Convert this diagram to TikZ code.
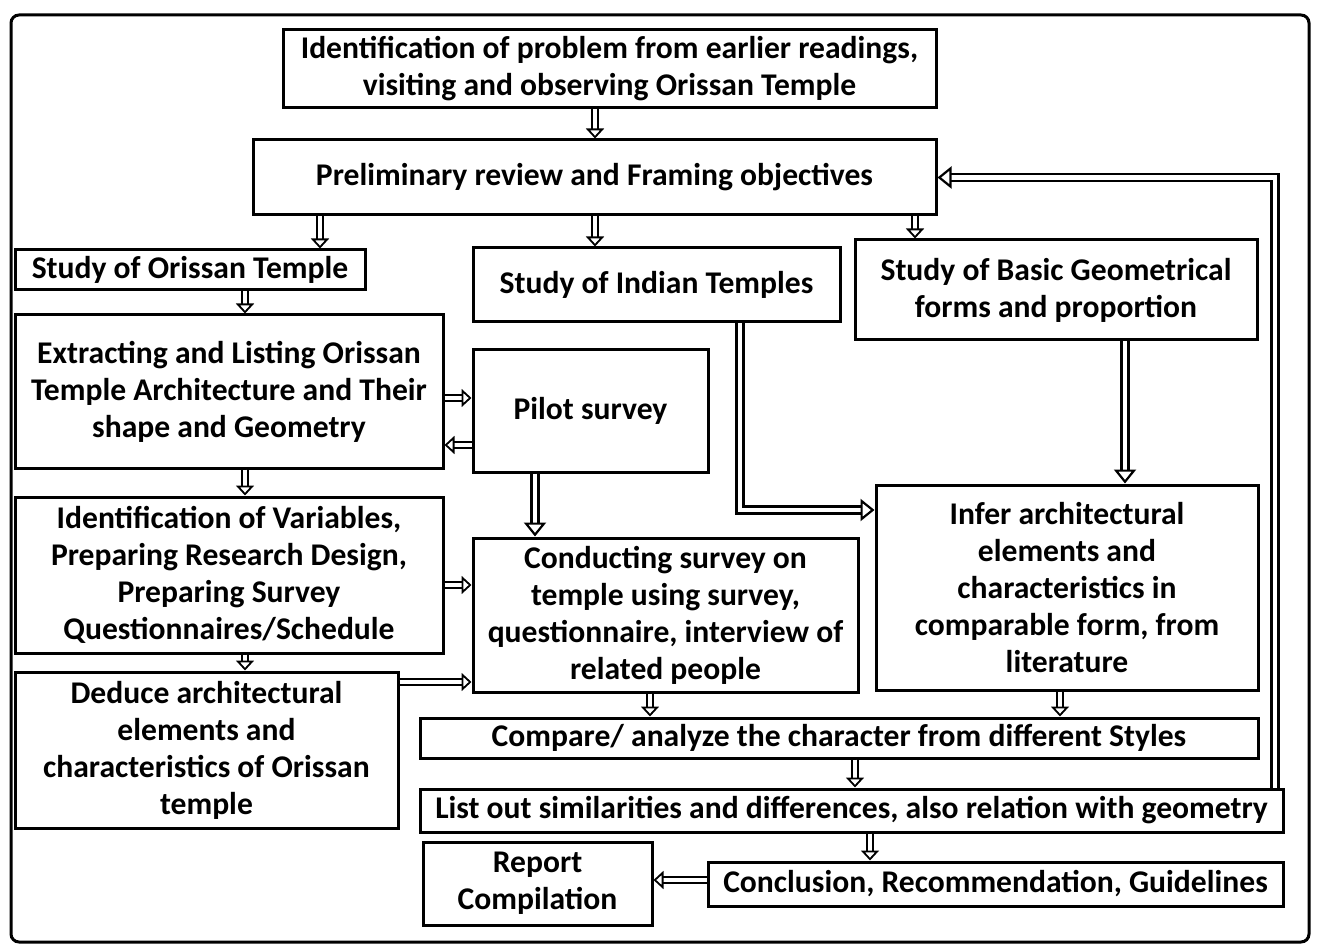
\documentclass[tikz,border=0pt]{standalone}
\usepackage{fontspec}
\setmainfont{Carlito}
\usetikzlibrary{arrows.meta}
\begin{document}
\begin{tikzpicture}[x=0.5pt,y=-0.5pt,
  box/.style={draw, line width=1.5pt, inner sep=0pt, align=center,
    font=\bfseries\fontsize{15.8}{18.5}\selectfont},
  arr/.style={double=white, double distance=2pt, line width=0.9pt,
    -{Triangle[open, length=5pt, width=9pt]}},
  bigarr/.style={double=white, double distance=2.4pt, line width=1.1pt,
    -{Triangle[open, length=7pt, width=11pt]}}]
\useasboundingbox (0,0) rectangle (1321,946);
\draw[line width=1.5pt, rounded corners=4pt] (11,15) rectangle (1309,942);
% boxes
\node[box, minimum width=326.5pt, minimum height=39pt] (p1) at (609.5,69) {Identification of problem from earlier readings,\\ visiting and observing Orissan Temple};
\node[box, minimum width=341.5pt, minimum height=37.5pt] (p2) at (594.5,177.5) {Preliminary review and Framing objectives};
\node[box, minimum width=175pt, minimum height=20pt] (s1) at (190,270) {Study of Orissan Temple};
\node[box, minimum width=183.5pt, minimum height=37pt] (s2) at (656.5,285) {Study of Indian Temples};
\node[box, minimum width=201pt, minimum height=50pt] (s3) at (1056,290) {Study of Basic Geometrical\\ forms and proportion};
\node[box, minimum width=214pt, minimum height=76.5pt] (ex) at (229,391.5) {Extracting and Listing Orissan\\ Temple Architecture and Their\\ shape and Geometry};
\node[box, minimum width=117.5pt, minimum height=61pt] (pi) at (590.5,411) {Pilot survey};
\node[box, minimum width=214pt, minimum height=78pt] (iv) at (229,575) {Identification of Variables,\\ Preparing Research Design,\\ Preparing Survey\\ Questionnaires/Schedule};
\node[box, minimum width=192.5pt, minimum height=77pt] (cs) at (665.5,615) {Conducting survey on\\ temple using survey,\\ questionnaire, interview of\\ related people};
\node[box, minimum width=191.5pt, minimum height=78pt] (de) at (206.5,750) {Deduce architectural\\ elements and\\ characteristics of Orissan\\ temple};
\node[box, minimum width=191pt, minimum height=102.5pt] (inf) at (1067,587.5) {Infer architectural\\ elements and\\ characteristics in\\ comparable form, from\\ literature};
\node[box, minimum width=419pt, minimum height=20pt] (cmp) at (839,738) {Compare/ analyze the character from different Styles};
\node[box, minimum width=431.5pt, minimum height=21.5pt] (lo) at (851.5,810.5) {List out similarities and differences, also relation with geometry};
\node[box, minimum width=287.5pt, minimum height=22pt] (con) at (995.5,884) {Conclusion, Recommendation, Guidelines};
\node[box, minimum width=114.5pt, minimum height=41.5pt] (rep) at (537.5,883.5) {Report\\ Compilation};
% guide coordinates
\coordinate (x245) at (245,0);
\coordinate (x320) at (320,0);
\coordinate (x535) at (535,0);
\coordinate (x595) at (595,0);
\coordinate (x650) at (650,0);
\coordinate (x740) at (740,0);
\coordinate (x855) at (855,0);
\coordinate (x870) at (870,0);
\coordinate (x915) at (915,0);
\coordinate (x1060) at (1060,0);
\coordinate (x1125) at (1125,0);
\coordinate (x1275) at (1275,0);
\coordinate (y398) at (0,398);
\coordinate (y445) at (0,445);
\coordinate (y510) at (0,510);
\coordinate (y585) at (0,585);
\coordinate (y682) at (0,682);
\coordinate (y880) at (0,880);
% arrows
\draw[arr] (p1.south -| x595) -- (p2.north -| x595);
\draw[arr] (p2.south -| x320) -- (s1.north -| x320);
\draw[arr] (p2.south -| x595) -- (s2.north -| x595);
\draw[arr] (p2.south -| x915) -- (s3.north -| x915);
\draw[arr] (s1.south -| x245) -- (ex.north -| x245);
\draw[arr] (ex.east |- y398) -- (pi.west |- y398);
\draw[arr] (pi.west |- y445) -- (ex.east |- y445);
\draw[arr] (ex.south -| x245) -- (iv.north -| x245);
\draw[bigarr] (pi.south -| x535) -- (cs.north -| x535);
\draw[arr] (iv.east |- y585) -- (cs.west |- y585);
\draw[arr] (iv.south -| x245) -- (de.north -| x245);
\draw[arr] (de.east |- y682) -- (cs.west |- y682);
\draw[bigarr] (s2.south -| x740) |- (inf.west |- y510);
\draw[bigarr] (s3.south -| x1125) -- (inf.north -| x1125);
\draw[arr] (cs.south -| x650) -- (cmp.north -| x650);
\draw[arr] (inf.south -| x1060) -- (cmp.north -| x1060);
\draw[arr] (cmp.south -| x855) -- (lo.north -| x855);
\draw[arr] (lo.south -| x870) -- (con.north -| x870);
\draw[arr] (con.west |- y880) -- (rep.east |- y880);
\draw[bigarr] (lo.north -| x1275) |- (p2.east);
\end{tikzpicture}
\end{document}
